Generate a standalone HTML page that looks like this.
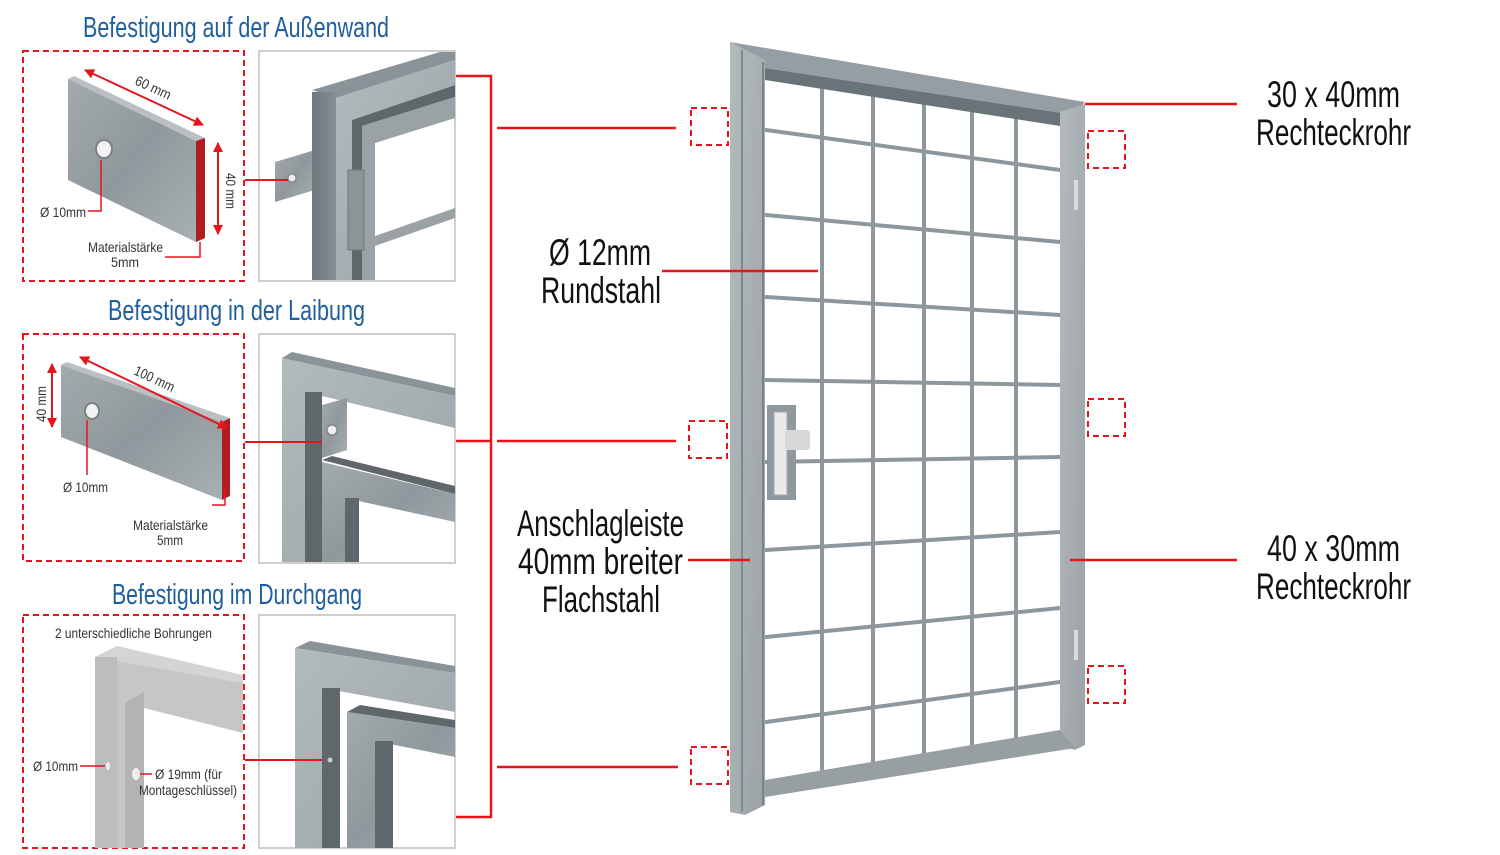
<!DOCTYPE html>
<html><head><meta charset="utf-8"><style>
html,body{margin:0;padding:0;background:#fff}
svg{display:block}
text{font-family:"Liberation Sans Narrow","Liberation Sans",sans-serif}
</style></head><body>
<svg width="1500" height="855" viewBox="0 0 1500 855" xmlns="http://www.w3.org/2000/svg">
<defs>
<linearGradient id="gm" x1="0" y1="0" x2="1" y2="1">
<stop offset="0" stop-color="#a3aaae"/><stop offset="0.5" stop-color="#8f989c"/><stop offset="1" stop-color="#a9b0b4"/></linearGradient>
<linearGradient id="gd" x1="0" y1="0" x2="1" y2="0">
<stop offset="0" stop-color="#6f787c"/><stop offset="1" stop-color="#858e92"/></linearGradient>
<linearGradient id="gl" x1="0" y1="0" x2="1" y2="1">
<stop offset="0" stop-color="#b3babd"/><stop offset="1" stop-color="#9ba3a7"/></linearGradient>
<marker id="ar" viewBox="0 0 10 10" refX="9" refY="5" markerWidth="5" markerHeight="5" orient="auto-start-reverse"><path d="M0,0L10,5L0,10z" fill="#e8141b"/></marker>
</defs>

<g fill="#1f5f9e" font-size="29">
<text x="83" y="37" textLength="306" lengthAdjust="spacingAndGlyphs">Befestigung auf der Außenwand</text>
<text x="108" y="320" textLength="257" lengthAdjust="spacingAndGlyphs">Befestigung in der Laibung</text>
<text x="112" y="604" textLength="250" lengthAdjust="spacingAndGlyphs">Befestigung im Durchgang</text>
</g>

<g fill="none" stroke="#e8141b" stroke-width="2" stroke-dasharray="6,4">
<rect x="23" y="51" width="221" height="230"/>
<rect x="23" y="334" width="221" height="227"/>
<rect x="23" y="615" width="221" height="233"/>
<rect x="691" y="108" width="37" height="37"/>
<rect x="689" y="421" width="38" height="37"/>
<rect x="691" y="747" width="37" height="37"/>
<rect x="1088" y="131" width="37" height="37"/>
<rect x="1088" y="399" width="37" height="37"/>
<rect x="1088" y="666" width="37" height="37"/>
</g>

<g fill="none" stroke="#cfcfcf" stroke-width="2">
<rect x="259" y="51" width="196" height="230"/>
<rect x="259" y="334" width="196" height="229"/>
<rect x="259" y="615" width="196" height="233"/>
</g>

<!-- Panel 1 plate -->
<polygon points="68,79 74,76 205,138 196,141" fill="#b9bfc2"/>
<polygon points="68,79 196,141 196,242 68,180" fill="url(#gm)"/>
<polygon points="196,141 205,138 205,238 196,242" fill="#b01c1f"/>
<ellipse cx="104" cy="149" rx="8" ry="9" fill="#f2f2f2" stroke="#7a8285" stroke-width="2"/>
<line x1="85" y1="70" x2="203" y2="125" stroke="#e8141b" stroke-width="2" marker-start="url(#ar)" marker-end="url(#ar)"/>
<line x1="218" y1="143" x2="218" y2="234" stroke="#e8141b" stroke-width="2" marker-start="url(#ar)" marker-end="url(#ar)"/>
<polyline points="88,211 101,211 101,160" fill="none" stroke="#e8141b" stroke-width="1.5"/>
<polyline points="165,257 200,257 200,242" fill="none" stroke="#e8141b" stroke-width="1.5"/>
<g fill="#333" font-size="14">
<text x="40" y="217" textLength="46" lengthAdjust="spacingAndGlyphs">Ø 10mm</text>
<text x="88" y="252" textLength="75" lengthAdjust="spacingAndGlyphs">Materialstärke</text>
<text x="111" y="267" textLength="28" lengthAdjust="spacingAndGlyphs">5mm</text>
<text transform="translate(134,84) rotate(25)" textLength="38" lengthAdjust="spacingAndGlyphs">60 mm</text>
<text transform="translate(226,173) rotate(90)" textLength="36" lengthAdjust="spacingAndGlyphs">40 mm</text>
</g>

<!-- Photo 1 -->
<polygon points="275,162 315,150 315,190 275,202" fill="url(#gm)"/>
<circle cx="292" cy="178" r="4" fill="#eee" stroke="#777"/>
<polygon points="312,90 440,52 455,52 455,60 336,98" fill="#8a9397"/>
<rect x="312" y="92" width="24" height="188" fill="url(#gd)"/>
<polygon points="336,98 455,60 455,85 352,120 352,280 336,280" fill="url(#gl)"/>
<polygon points="352,120 455,85 455,97 362,126 362,280 352,280" fill="#5f676b"/>
<polygon points="362,126 455,97 455,118 375,143 375,280 362,280" fill="#9aa2a6"/>
<polygon points="375,236 455,208 455,218 375,246" fill="#9aa2a6"/>
<rect x="348" y="170" width="16" height="80" fill="#8c9498" stroke="#6f777a"/>
<line x1="245" y1="180" x2="288" y2="180" stroke="#e8141b" stroke-width="2"/>

<!-- Panel 2 plate -->
<polygon points="61,365 67,362 230,418 222,422" fill="#b9bfc2"/>
<polygon points="61,365 222,422 222,500 61,437" fill="url(#gm)"/>
<polygon points="222,422 230,418 230,496 222,500" fill="#b01c1f"/>
<ellipse cx="92" cy="411" rx="7" ry="8" fill="#f2f2f2" stroke="#7a8285" stroke-width="2"/>
<line x1="80" y1="357" x2="227" y2="428" stroke="#e8141b" stroke-width="2" marker-start="url(#ar)" marker-end="url(#ar)"/>
<line x1="52" y1="364" x2="52" y2="427" stroke="#e8141b" stroke-width="2" marker-start="url(#ar)" marker-end="url(#ar)"/>
<line x1="87" y1="420" x2="87" y2="475" stroke="#e8141b" stroke-width="1.5"/>
<polyline points="212,505 225,505 225,490" fill="none" stroke="#e8141b" stroke-width="1.5"/>
<g fill="#333" font-size="14">
<text x="63" y="492" textLength="45" lengthAdjust="spacingAndGlyphs">Ø 10mm</text>
<text x="133" y="530" textLength="75" lengthAdjust="spacingAndGlyphs">Materialstärke</text>
<text x="157" y="545" textLength="26" lengthAdjust="spacingAndGlyphs">5mm</text>
<text transform="translate(133,374) rotate(25)" textLength="43" lengthAdjust="spacingAndGlyphs">100 mm</text>
<text transform="translate(46,422) rotate(-90)" textLength="36" lengthAdjust="spacingAndGlyphs">40 mm</text>
</g>

<!-- Photo 2 -->
<polygon points="282,358 292,352 455,388 455,396" fill="#8a9397"/>
<polygon points="282,358 455,396 455,428 305,392 305,562 282,562" fill="url(#gl)"/>
<rect x="305" y="392" width="17" height="170" fill="#5f676b"/>
<polygon points="322,405 347,398 347,450 322,458" fill="url(#gm)"/>
<circle cx="332" cy="430" r="5" fill="#eee" stroke="#777"/>
<polygon points="322,460 332,456 455,486 455,494" fill="#5f676b"/>
<polygon points="322,462 455,494 455,522 345,498 345,562 322,562" fill="url(#gm)"/>
<rect x="345" y="498" width="14" height="64" fill="#5f676b"/>
<line x1="245" y1="442" x2="322" y2="442" stroke="#e8141b" stroke-width="2"/>

<!-- Panel 3 -->
<text x="55" y="638" fill="#333" font-size="14" textLength="157" lengthAdjust="spacingAndGlyphs">2 unterschiedliche Bohrungen</text>
<polygon points="95,657 117,646 243,675 243,683" fill="#d4d4d4"/>
<polygon points="95,657 243,683 243,733 144,708 144,848 95,848" fill="#c6c6c6"/>
<rect x="95" y="657" width="22" height="191" fill="#bdbdbd"/>
<polygon points="125,703 144,692 144,848 125,848" fill="#b3b3b3"/>
<ellipse cx="108" cy="766" rx="2" ry="4" fill="#eee"/>
<ellipse cx="136" cy="774" rx="4" ry="6" fill="#eee"/>
<line x1="80" y1="766" x2="105" y2="766" stroke="#e8141b" stroke-width="1.5"/>
<line x1="140" y1="774" x2="152" y2="774" stroke="#e8141b" stroke-width="1.5"/>
<g fill="#333" font-size="14">
<text x="33" y="771" textLength="45" lengthAdjust="spacingAndGlyphs">Ø 10mm</text>
<text x="155" y="779" textLength="67" lengthAdjust="spacingAndGlyphs">Ø 19mm (für</text>
<text x="139" y="795" textLength="98" lengthAdjust="spacingAndGlyphs">Montageschlüssel)</text>
</g>

<!-- Photo 3 -->
<polygon points="295,648 310,641 455,666 455,673" fill="#8a9397"/>
<polygon points="295,648 455,673 455,712 322,688 322,848 295,848" fill="url(#gl)"/>
<rect x="322" y="688" width="18" height="160" fill="#5f676b"/>
<polygon points="347,712 360,705 455,720 455,728" fill="#5f676b"/>
<polygon points="347,712 455,728 455,757 375,741 375,848 347,848" fill="url(#gm)"/>
<rect x="375" y="741" width="18" height="107" fill="#5f676b"/>
<circle cx="330" cy="760" r="3" fill="#ccc" stroke="#666"/>
<line x1="245" y1="760" x2="322" y2="760" stroke="#e8141b" stroke-width="2"/>

<!-- bracket -->
<g fill="none" stroke="#e8141b" stroke-width="2.5">
<polyline points="456,76 491,76 491,817 456,817"/>
<line x1="456" y1="441" x2="491" y2="441"/>
<line x1="497" y1="128" x2="676" y2="128"/>
<line x1="497" y1="441" x2="676" y2="441"/>
<line x1="497" y1="767" x2="678" y2="767"/>
</g>

<!-- door bars -->
<g stroke="#8e979c" stroke-width="4" stroke-linecap="round">
<line x1="822" y1="87" x2="822" y2="770"/>
<line x1="873" y1="95" x2="873" y2="763"/>
<line x1="924" y1="103" x2="924" y2="753"/>
<line x1="972" y1="112" x2="972" y2="745"/>
<line x1="1016" y1="118" x2="1016" y2="737"/>
<line x1="766" y1="130" x2="1060" y2="170"/>
<line x1="766" y1="215" x2="1060" y2="242"/>
<line x1="766" y1="297" x2="1060" y2="315"/>
<line x1="766" y1="380" x2="1060" y2="385"/>
<line x1="766" y1="462" x2="1060" y2="457"/>
<line x1="766" y1="550" x2="1060" y2="532"/>
<line x1="766" y1="637" x2="1060" y2="608"/>
<line x1="766" y1="722" x2="1060" y2="682"/>
</g>
<!-- door frame -->
<polygon points="730,42 1085,102 1075,115 765,68 735,50" fill="#959ea2"/>
<polygon points="765,68 1075,115 1060,126 765,80" fill="#6a7377"/>
<polygon points="1060,112 1085,104 1085,745 1075,750 1060,745" fill="url(#gl)"/>
<polygon points="765,780 1060,730 1075,748 765,797" fill="#979fa3"/>
<polygon points="730,42 765,60 765,805 745,815 730,812" fill="url(#gl)"/>
<line x1="742" y1="50" x2="742" y2="812" stroke="#7f888c" stroke-width="2"/>
<line x1="763" y1="62" x2="763" y2="805" stroke="#7a8387" stroke-width="2"/>
<rect x="1074" y="180" width="4" height="30" fill="#d8dcde"/>
<rect x="1074" y="630" width="4" height="30" fill="#d8dcde"/>
<!-- lock -->
<rect x="767" y="405" width="29" height="95" fill="#8f989c"/>
<rect x="774" y="412" width="13" height="83" fill="#e9e9e9" stroke="#aaa"/>
<rect x="785" y="430" width="25" height="20" rx="3" fill="#d8d8d8"/>

<g fill="none" stroke="#e8141b" stroke-width="2.5">
<line x1="662" y1="271" x2="818" y2="271"/>
<line x1="688" y1="560" x2="750" y2="560"/>
<line x1="1085" y1="104" x2="1237" y2="104"/>
<line x1="1070" y1="560" x2="1237" y2="560"/>
</g>

<g fill="#111" font-size="37">
<text x="1267" y="107" textLength="133" lengthAdjust="spacingAndGlyphs">30 x 40mm</text>
<text x="1256" y="145" textLength="155" lengthAdjust="spacingAndGlyphs">Rechteckrohr</text>
<text x="1267" y="561" textLength="133" lengthAdjust="spacingAndGlyphs">40 x 30mm</text>
<text x="1256" y="599" textLength="155" lengthAdjust="spacingAndGlyphs">Rechteckrohr</text>
<text x="549" y="265" textLength="102" lengthAdjust="spacingAndGlyphs">Ø 12mm</text>
<text x="541" y="303" textLength="120" lengthAdjust="spacingAndGlyphs">Rundstahl</text>
<text x="517" y="536" textLength="167" lengthAdjust="spacingAndGlyphs">Anschlagleiste</text>
<text x="518" y="574" textLength="165" lengthAdjust="spacingAndGlyphs">40mm breiter</text>
<text x="542" y="612" textLength="118" lengthAdjust="spacingAndGlyphs">Flachstahl</text>
</g>
</svg>
</body></html>
